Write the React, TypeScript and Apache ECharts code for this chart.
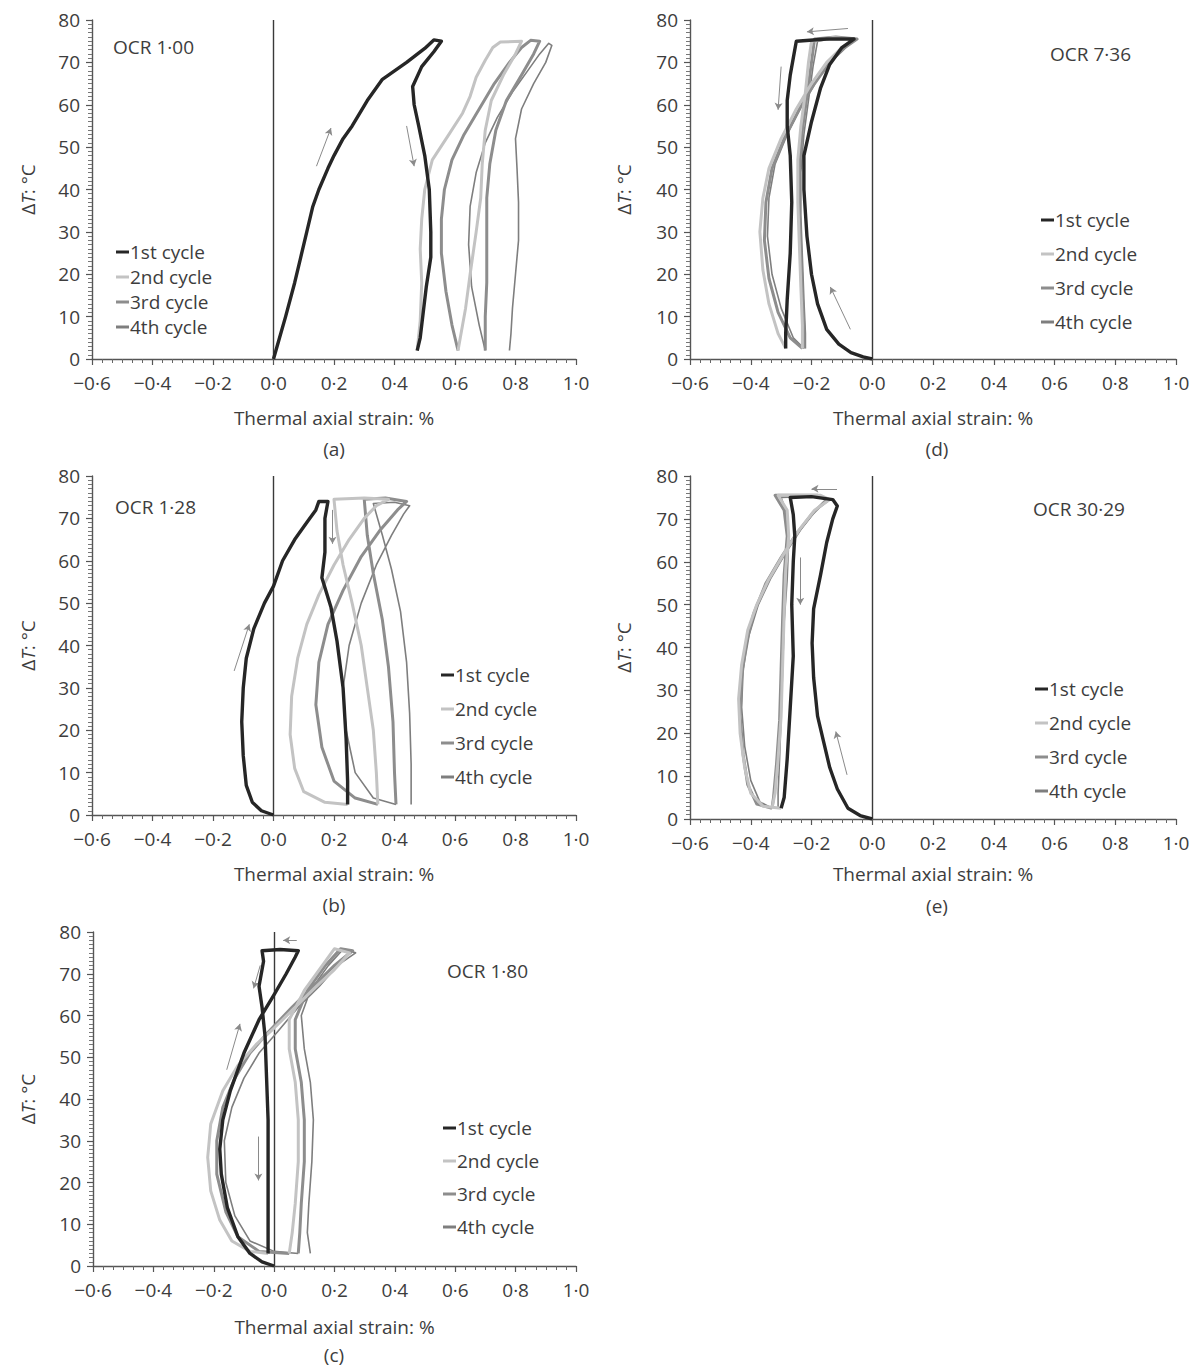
import React, { useEffect, useRef } from "react";
import * as echarts from "echarts";

type P = [number, number];

// ---------- Panel (a) OCR 1·00 ----------
const a1: P[] = [[0,0],[0.02,5],[0.04,10],[0.07,18],[0.09,24],[0.11,30],[0.13,36],[0.15,40],[0.18,45],[0.2,48],[0.23,52],[0.26,55],[0.31,61],[0.36,66],[0.44,70],[0.5,73.3],[0.53,75.3],[0.555,75],[0.53,72.5],[0.49,69],[0.46,64.3],[0.465,60],[0.48,55],[0.5,48],[0.515,40],[0.52,30],[0.52,24],[0.505,17],[0.495,11],[0.485,5],[0.475,2]];
const a2: P[] = [[0.475,2],[0.485,9],[0.49,18],[0.485,26],[0.49,33],[0.5,40],[0.525,47],[0.58,53],[0.625,58],[0.65,62],[0.67,66.5],[0.7,70.5],[0.725,73.5],[0.75,74.8],[0.82,75],[0.8,72],[0.76,67],[0.72,61],[0.7,54],[0.69,46],[0.685,38],[0.67,30],[0.65,20],[0.635,12],[0.62,6],[0.61,2]];
const a3: P[] = [[0.61,2],[0.59,8],[0.57,16],[0.555,25],[0.555,33],[0.565,40],[0.59,47],[0.63,53],[0.68,59],[0.73,65],[0.78,70],[0.82,73.5],[0.85,75.2],[0.88,75],[0.86,72],[0.82,67],[0.77,61],[0.735,54],[0.715,46],[0.705,38],[0.705,28],[0.705,18],[0.7,10],[0.7,2]];
const a4: P[] = [[0.7,2],[0.68,8],[0.655,17],[0.645,27],[0.65,36],[0.67,44],[0.7,51],[0.74,57],[0.79,63],[0.84,68],[0.88,72],[0.91,74.5],[0.92,74],[0.9,70],[0.86,65],[0.82,59],[0.8,52],[0.805,45],[0.81,37],[0.81,28],[0.8,20],[0.79,12],[0.785,6],[0.78,2]];

// ---------- Panel (b) OCR 1·28 ----------
const b1: P[] = [[0,0],[-0.04,1],[-0.07,3],[-0.09,7],[-0.1,14],[-0.105,22],[-0.1,30],[-0.09,37],[-0.065,44],[-0.03,50],[0,54],[0.03,60],[0.07,65],[0.11,69],[0.14,72],[0.15,74],[0.18,74],[0.17,70],[0.17,62],[0.16,56],[0.19,49],[0.21,41],[0.23,30],[0.24,18],[0.245,8],[0.245,2.5]];
const b2: P[] = [[0.245,2.5],[0.17,3],[0.1,5.5],[0.07,11],[0.055,19],[0.06,28],[0.08,37],[0.11,45],[0.15,52],[0.2,59],[0.25,65],[0.3,70],[0.34,73],[0.38,74.5],[0.3,74.8],[0.2,74.5],[0.21,67],[0.23,59],[0.26,50],[0.29,40],[0.31,30],[0.33,20],[0.34,10],[0.345,2.5]];
const b3: P[] = [[0.345,2.5],[0.27,4],[0.2,8],[0.16,16],[0.14,26],[0.15,36],[0.18,45],[0.23,53],[0.29,61],[0.35,67],[0.41,72],[0.44,74],[0.37,74.8],[0.3,74.5],[0.31,66],[0.33,57],[0.36,46],[0.38,35],[0.395,22],[0.4,10],[0.405,2.5]];
const b4: P[] = [[0.405,2.5],[0.33,4],[0.27,10],[0.24,20],[0.23,30],[0.25,40],[0.29,50],[0.34,59],[0.39,66],[0.43,71],[0.45,73],[0.4,73.8],[0.33,73.5],[0.36,66],[0.39,58],[0.42,48],[0.44,36],[0.45,24],[0.455,12],[0.455,2.5]];

// ---------- Panel (c) OCR 1·80 ----------
const c1: P[] = [[0,0],[-0.04,1],[-0.08,3],[-0.12,7],[-0.155,14],[-0.175,22],[-0.18,28],[-0.17,35],[-0.145,42],[-0.1,51],[-0.05,59],[0,65],[0.04,70],[0.07,74],[0.08,75.5],[0.02,75.8],[-0.04,75.5],[-0.035,73],[-0.05,67],[-0.04,62],[-0.03,55],[-0.025,45],[-0.02,35],[-0.02,22],[-0.02,12],[-0.02,3]];
const c2: P[] = [[-0.02,3],[-0.08,3.5],[-0.14,6],[-0.18,11],[-0.21,18],[-0.22,26],[-0.21,34],[-0.17,42],[-0.12,48],[-0.06,53],[0,57],[0.07,62],[0.14,67],[0.2,71],[0.25,75],[0.2,76],[0.16,72],[0.1,66],[0.05,59],[0.05,52],[0.07,44],[0.08,35],[0.08,25],[0.07,15],[0.06,8],[0.05,3]];
const c3: P[] = [[0.05,3],[-0.05,3.5],[-0.12,7],[-0.16,13],[-0.19,22],[-0.19,30],[-0.17,38],[-0.13,45],[-0.08,51],[-0.02,56],[0.06,62],[0.13,67],[0.2,72],[0.26,75.5],[0.22,76],[0.17,72],[0.11,66],[0.07,59],[0.07,52],[0.09,44],[0.1,35],[0.1,25],[0.09,15],[0.085,8],[0.08,3]];
const c4: P[] = [[0.08,3],[0,3.5],[-0.08,6],[-0.13,12],[-0.16,20],[-0.165,30],[-0.14,38],[-0.1,45],[-0.05,51],[0.01,56],[0.08,62],[0.15,67],[0.21,72],[0.27,75],[0.23,76],[0.18,72],[0.12,66],[0.09,60],[0.1,52],[0.12,44],[0.13,35],[0.125,25],[0.115,15],[0.11,8],[0.12,3]];

// ---------- Panel (d) OCR 7·36 ----------
const d1: P[] = [[0,0],[-0.03,0.5],[-0.07,1.5],[-0.11,3.5],[-0.15,7],[-0.18,13],[-0.2,20],[-0.215,29],[-0.225,40],[-0.225,48],[-0.2,56],[-0.17,64],[-0.14,69.5],[-0.1,73.5],[-0.06,75.5],[-0.15,75.5],[-0.25,75],[-0.26,71],[-0.27,67],[-0.28,61],[-0.28,55],[-0.27,48],[-0.265,37],[-0.27,25],[-0.28,14],[-0.285,6],[-0.285,2.5]];
const d2: P[] = [[-0.285,2.5],[-0.31,6],[-0.34,13],[-0.36,21],[-0.37,30],[-0.36,38],[-0.34,45],[-0.3,52],[-0.25,59],[-0.2,65],[-0.15,70],[-0.1,73.5],[-0.06,75.5],[-0.13,75.8],[-0.2,75],[-0.21,70],[-0.22,63],[-0.235,55],[-0.245,47],[-0.245,37],[-0.24,27],[-0.235,17],[-0.23,8],[-0.23,2.5]];
const d3: P[] = [[-0.23,2.5],[-0.27,5],[-0.31,11],[-0.34,19],[-0.355,28],[-0.35,37],[-0.33,45],[-0.29,52],[-0.24,59],[-0.19,65],[-0.14,70],[-0.09,73.5],[-0.05,75.5],[-0.12,76],[-0.19,75.5],[-0.2,70],[-0.215,62],[-0.23,54],[-0.24,45],[-0.24,35],[-0.235,25],[-0.23,15],[-0.225,7],[-0.225,2.5]];
const d4: P[] = [[-0.225,2.5],[-0.26,5],[-0.3,12],[-0.33,20],[-0.345,29],[-0.34,38],[-0.32,46],[-0.28,53],[-0.23,60],[-0.18,66],[-0.13,70.5],[-0.08,74],[-0.05,75.5],[-0.11,75.8],[-0.18,75],[-0.195,69],[-0.21,61],[-0.225,53],[-0.235,44],[-0.235,34],[-0.23,24],[-0.225,14],[-0.22,6],[-0.22,2.5]];

// ---------- Panel (e) OCR 30·29 ----------
const e1: P[] = [[0,0],[-0.04,0.8],[-0.08,2.5],[-0.115,7],[-0.14,12],[-0.16,18],[-0.18,24],[-0.193,33],[-0.198,41],[-0.193,49],[-0.17,57],[-0.15,64.5],[-0.13,70],[-0.115,73],[-0.13,74.5],[-0.2,75.2],[-0.27,75],[-0.26,71],[-0.255,66],[-0.26,60],[-0.265,50],[-0.26,38],[-0.27,26],[-0.28,14],[-0.29,5],[-0.3,2.5]];
const e2: P[] = [[-0.3,2.5],[-0.36,3],[-0.4,6],[-0.42,12],[-0.435,20],[-0.44,28],[-0.43,36],[-0.41,44],[-0.38,50],[-0.34,56],[-0.29,62],[-0.24,67.5],[-0.19,72],[-0.14,74.5],[-0.17,75.5],[-0.31,75.5],[-0.28,72],[-0.275,66],[-0.285,58],[-0.29,48],[-0.295,36],[-0.3,24],[-0.31,14],[-0.32,6],[-0.33,2.5]];
const e3: P[] = [[-0.33,2.5],[-0.38,3.5],[-0.41,8],[-0.425,15],[-0.435,24],[-0.43,33],[-0.415,41],[-0.39,48],[-0.35,55],[-0.3,61],[-0.25,66.5],[-0.2,71],[-0.15,74.5],[-0.18,75.5],[-0.32,75.5],[-0.29,72],[-0.28,66],[-0.29,57],[-0.295,47],[-0.3,35],[-0.305,23],[-0.315,13],[-0.325,5],[-0.33,2.5]];
const e4: P[] = [[-0.33,2.5],[-0.37,4],[-0.4,9],[-0.42,17],[-0.43,26],[-0.425,35],[-0.405,43],[-0.375,50],[-0.335,56],[-0.285,62],[-0.235,67.5],[-0.185,72],[-0.14,74.5],[-0.18,75.3],[-0.3,75],[-0.28,71],[-0.275,65],[-0.28,56],[-0.29,46],[-0.295,35],[-0.3,24],[-0.305,14],[-0.31,6],[-0.31,2.5]];

// ---------- Direction arrows (data coordinates: x1, y1, x2, y2) ----------
const aArrows = [[0.142, 45.5, 0.19, 54.5], [0.44, 55, 0.465, 45.5]];
const bArrows = [[-0.13, 34, -0.08, 45], [0.195, 72, 0.195, 64]];
const cArrows = [[0.075, 78, 0.03, 78], [-0.046, 72, -0.068, 66.5], [-0.157, 47, -0.113, 58], [-0.052, 31, -0.052, 20.5]];
const dArrows = [[-0.08, 78, -0.215, 77.2], [-0.3, 69, -0.31, 58.8], [-0.072, 7, -0.138, 17]];
const eArrows = [[-0.116, 77, -0.2, 77], [-0.237, 61, -0.237, 50], [-0.083, 10.3, -0.12, 20.4]];

const cycleNames = ["1st cycle", "2nd cycle", "3rd cycle", "4th cycle"];
const xMin = -0.6, xMax = 1.0, xStep = 0.2;
const yMin = 0, yMax = 80, yStep = 10;
const xTitle = "Thermal axial strain: %";

const FONT = "Open Sans";
const TXT = "#3d3d3d";
const cycleColors = ["#262626", "#c3c3c3", "#8d8d8d", "#7e7e7e"];
const cycleWidths = [3.4, 3, 3, 1.6];

const panels = [
  { cycles: [a1, a2, a3, a4], arrows: aArrows, grid: { left: 92, top: 20, width: 484, height: 339 },
    ocr: "OCR 1·00", ocrX: 113, ocrY: 49, lgLeft: 111, lgTop: 237, lgGap: 5, sub: "(a)", subX: 334, subY: 449, xGap: 49, yGap: 55 },
  { cycles: [b1, b2, b3, b4], arrows: bArrows, grid: { left: 92, top: 476, width: 484, height: 339 },
    ocr: "OCR 1·28", ocrX: 115, ocrY: 509, lgLeft: 436, lgTop: 660, lgGap: 14, sub: "(b)", subX: 334, subY: 905, xGap: 49, yGap: 55 },
  { cycles: [c1, c2, c3, c4], arrows: cArrows, grid: { left: 93, top: 932, width: 483, height: 334 },
    ocr: "OCR 1·80", ocrX: 447, ocrY: 973, lgLeft: 438, lgTop: 1113, lgGap: 13, sub: "(c)", subX: 334, subY: 1355, xGap: 51, yGap: 56 },
  { cycles: [d1, d2, d3, d4], arrows: dArrows, grid: { left: 690, top: 20, width: 486, height: 339 },
    ocr: "OCR 7·36", ocrX: 1050, ocrY: 56, lgLeft: 1036, lgTop: 205, lgGap: 14, sub: "(d)", subX: 937, subY: 449, xGap: 49, yGap: 57 },
  { cycles: [e1, e2, e3, e4], arrows: eArrows, grid: { left: 690, top: 476, width: 486, height: 343 },
    ocr: "OCR 30·29", ocrX: 1033, ocrY: 511, lgLeft: 1030, lgTop: 674, lgGap: 14, sub: "(e)", subX: 937, subY: 906, xGap: 45, yGap: 57 },
];

function fmtX(v: number): string {
  if (Math.abs(v) < 1e-9) return "0·0";
  return v.toFixed(1).replace("-", "−").replace(".", "·");
}

function buildOption() {
  const grid: any[] = [];
  const xAxis: any[] = [];
  const yAxis: any[] = [];
  const legend: any[] = [];
  const series: any[] = [];
  const graphic: any[] = [];

  panels.forEach((p, i) => {
    grid.push({ ...p.grid, containLabel: false });
    xAxis.push({
      type: "value", gridIndex: i, min: xMin, max: xMax, interval: xStep,
      name: xTitle, nameLocation: "middle", nameGap: p.xGap,
      nameTextStyle: { fontFamily: FONT, fontSize: 19, color: TXT },
      axisLine: { show: true, onZero: false, lineStyle: { color: "#555", width: 1.4 } },
      axisTick: { show: true, length: 6, lineStyle: { color: "#555", width: 1.2 } },
      minorTick: { show: true, splitNumber: 6, length: 4, lineStyle: { color: "#666", width: 1 } },
      axisLabel: { formatter: fmtX, fontFamily: FONT, fontSize: 19, color: TXT, margin: 14 },
      splitLine: { show: false },
    });
    yAxis.push({
      type: "value", gridIndex: i, min: yMin, max: yMax, interval: yStep,
      name: "{d|Δ}{i|T}{d|: °C}", nameLocation: "middle", nameGap: p.yGap, nameRotate: 90,
      nameTextStyle: {
        fontFamily: FONT, fontSize: 19, color: TXT,
        rich: {
          d: { fontFamily: FONT, fontSize: 19, color: TXT },
          i: { fontFamily: FONT, fontSize: 19, color: TXT, fontStyle: "italic" },
        },
      },
      axisLine: { show: true, onZero: false, lineStyle: { color: "#555", width: 1.4 } },
      axisTick: { show: true, length: 6, lineStyle: { color: "#555", width: 1.2 } },
      minorTick: { show: true, splitNumber: 10, length: 4, lineStyle: { color: "#777", width: 1 } },
      axisLabel: { fontFamily: FONT, fontSize: 19, color: TXT, margin: 12 },
      splitLine: { show: false },
    });
    legend.push({
      orient: "vertical", left: p.lgLeft, top: p.lgTop, itemGap: p.lgGap,
      itemWidth: 13, itemHeight: 3, icon: "rect", selectedMode: false,
      data: cycleNames,
      textStyle: { fontFamily: FONT, fontSize: 19, color: TXT, lineHeight: 20, padding: [0, 0, 0, -4] },
    });
    // cycles (drawn 4th -> 1st so that 1st is on top)
    for (let c = 3; c >= 0; c--) {
      series.push({
        type: "line", name: cycleNames[c], xAxisIndex: i, yAxisIndex: i,
        data: p.cycles[c], showSymbol: false, symbol: "none", smooth: false,
        lineStyle: { color: cycleColors[c], width: cycleWidths[c], join: "round" },
        itemStyle: { color: cycleColors[c] },
        z: 10 - c, silent: true,
      });
    }
    // zero line
    series.push({
      type: "line", name: "zero" + i, xAxisIndex: i, yAxisIndex: i, data: [], symbol: "none",
      silent: true, z: 3,
      markLine: {
        silent: true, symbol: ["none", "none"], label: { show: false },
        lineStyle: { color: "#3a3a3a", width: 1.4, type: "solid" },
        data: [{ xAxis: 0 }],
      },
    });
    // direction arrows
    series.push({
      type: "line", name: "arrows" + i, xAxisIndex: i, yAxisIndex: i, data: [], symbol: "none",
      silent: true, z: 20,
      markLine: {
        silent: true, symbol: ["none", "arrow"], symbolSize: [6, 7], label: { show: false },
        lineStyle: { color: "#8a8a8a", width: 1, type: "solid" },
        data: p.arrows.map((a) => [{ coord: [a[0], a[1]] }, { coord: [a[2], a[3]] }]),
      },
    });
    graphic.push({
      type: "text", left: p.ocrX, top: p.ocrY - 12,
      style: { text: p.ocr, fontFamily: FONT, fontSize: 19, fill: TXT },
    });
    graphic.push({
      type: "text", x: p.subX, y: p.subY,
      style: { text: p.sub, fontFamily: FONT, fontSize: 19, fill: TXT, align: "center", verticalAlign: "middle" },
    });
  });

  return { animation: false, backgroundColor: "#ffffff", grid, xAxis, yAxis, legend, series, graphic };
}

export default function App() {
  const ref = useRef<HTMLDivElement>(null);
  useEffect(() => {
    if (!ref.current) return;
    const chart = echarts.init(ref.current, undefined, { renderer: "svg" });
    chart.setOption(buildOption() as any);
    return () => chart.dispose();
  }, []);
  return (
    <div
      ref={ref}
      style={{ position: "absolute", left: 0, top: 0, width: 1202, height: 1369, background: "#fff" }}
    />
  );
}
